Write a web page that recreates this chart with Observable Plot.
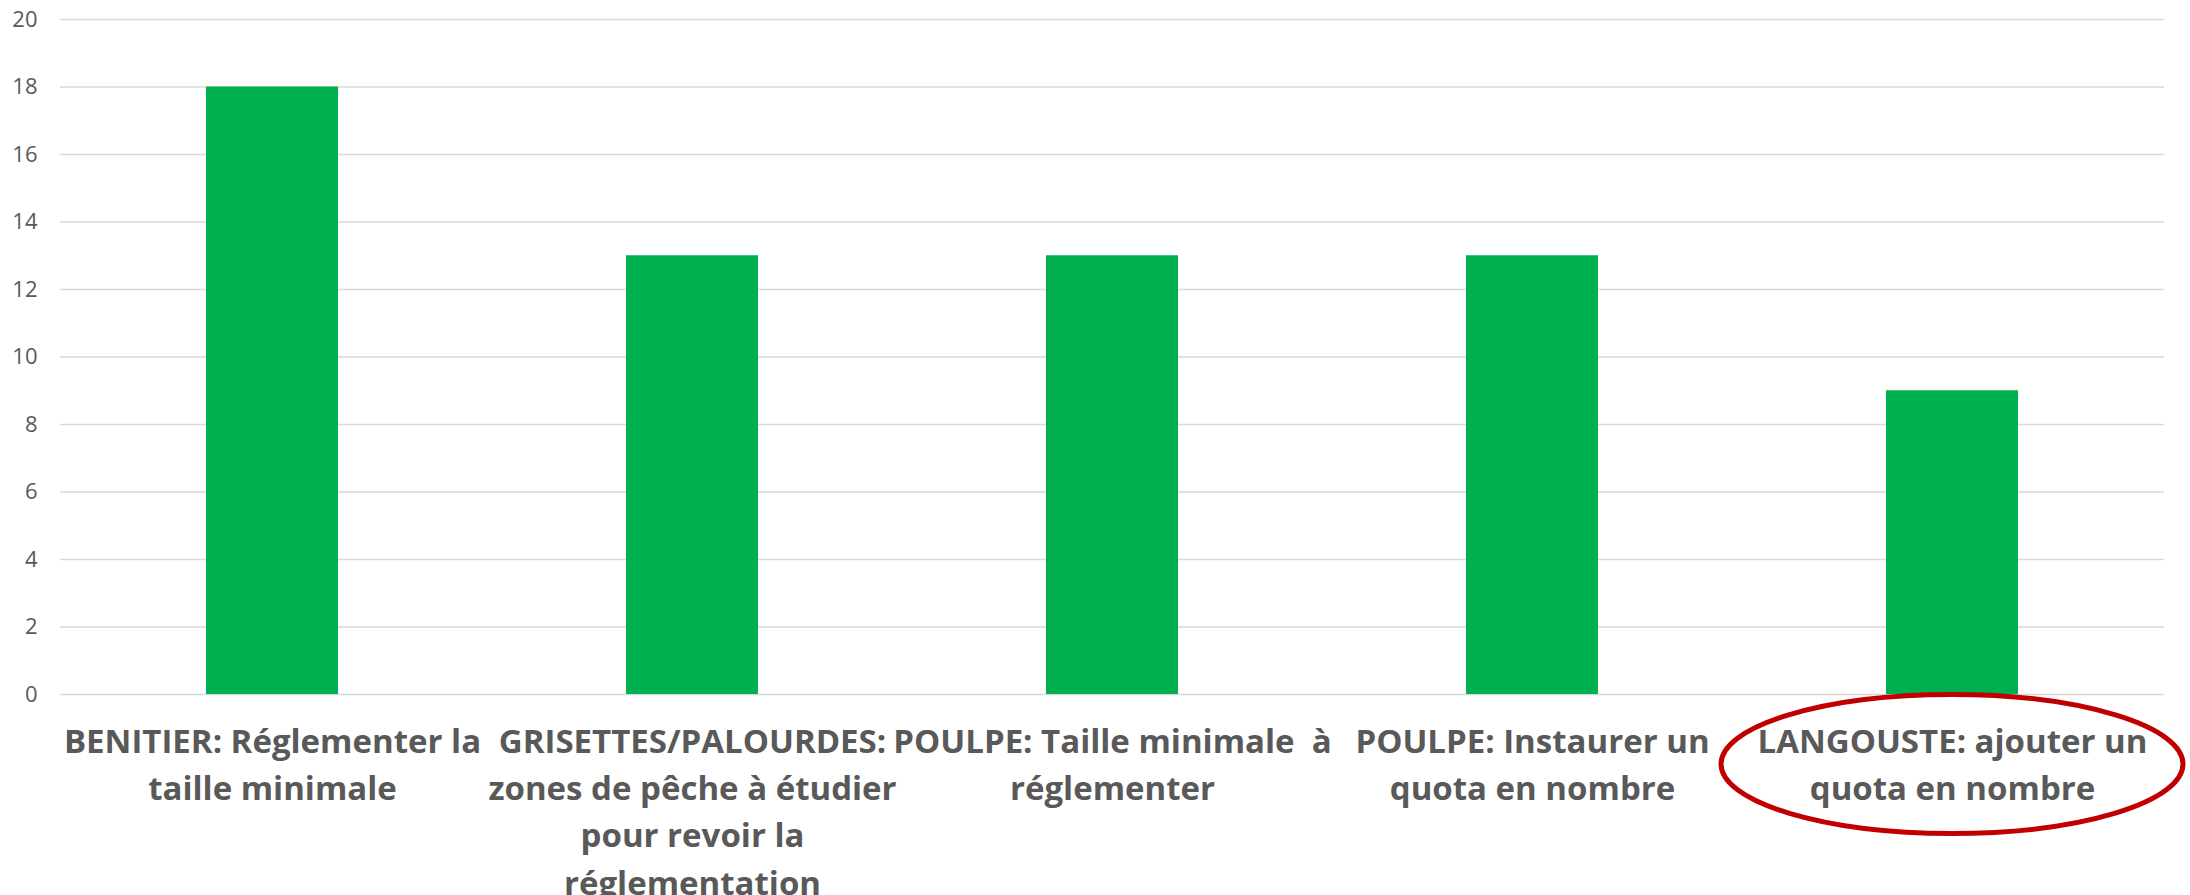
<!DOCTYPE html>
<html>
<head>
<meta charset="utf-8">
<script src="https://cdn.jsdelivr.net/npm/d3@7"></script>
<script src="https://cdn.jsdelivr.net/npm/@observablehq/plot@0.6"></script>
<style>
  html, body { margin: 0; padding: 0; background: #ffffff; }
  #chart svg { display: block; }
</style>
</head>
<body>
<div id="chart"></div>
<script>
const categories = [
  "BENITIER: Réglementer la taille minimale",
  "GRISETTES/PALOURDES: zones de pêche à étudier pour revoir la réglementation",
  "POULPE: Taille minimale  à réglementer",
  "POULPE: Instaurer un quota en nombre",
  "LANGOUSTE: ajouter un quota en nombre"
];
const values = [18, 13, 13, 13, 9];
const tickLabels = [
  "BENITIER: Réglementer la\ntaille minimale",
  "GRISETTES/PALOURDES:\nzones de pêche à étudier\npour revoir la\nréglementation",
  "POULPE: Taille minimale  à\nréglementer",
  "POULPE: Instaurer un\nquota en nombre",
  "LANGOUSTE: ajouter un\nquota en nombre"
];
const yTicks = [0, 2, 4, 6, 8, 10, 12, 14, 16, 18, 20];
const highlighted = "LANGOUSTE: ajouter un quota en nombre";

const data = categories.map((c, i) => ({cat: c, value: values[i]}));
const labelOf = new Map(categories.map((c, i) => [c, tickLabels[i]]));

const plot = Plot.plot({
  width: 2190,
  height: 895,
  marginLeft: 60,
  marginRight: 26,
  marginTop: 19,
  marginBottom: 201,
  style: {fontFamily: "'Open Sans', sans-serif", color: "#595959", background: "#ffffff"},
  x: {domain: categories, paddingInner: 0.686, paddingOuter: 0.343, label: null},
  y: {domain: [0, 20], label: null},
  marks: [
    Plot.gridY(yTicks, {stroke: "#d9d9d9", strokeOpacity: 1, strokeWidth: 1.5}),
    Plot.barY(data, {x: "cat", y: "value", fill: "#00B050"}),
    Plot.axisY(yTicks, {tickSize: 0, tickPadding: 23, fontSize: 22, fill: "#595959", label: null}),
    Plot.axisX({tickSize: 0, tickPadding: 25, fontSize: 33, fontWeight: "bold", lineHeight: 1.43,
      fill: "#595959", tickFormat: d => labelOf.get(d), label: null})
  ]
});

document.getElementById("chart").appendChild(plot);

// red ellipse annotation around the highlighted category label
const xs = plot.scale("x");
const ys = plot.scale("y");
const cx = xs.apply(highlighted) + xs.bandwidth / 2;
const cy = ys.apply(0) + 70;
d3.select(plot).append("ellipse")
  .attr("cx", cx).attr("cy", cy)
  .attr("rx", 231).attr("ry", 69.5)
  .attr("fill", "none")
  .attr("stroke", "#C00000")
  .attr("stroke-width", 5);
</script>
</body>
</html>
